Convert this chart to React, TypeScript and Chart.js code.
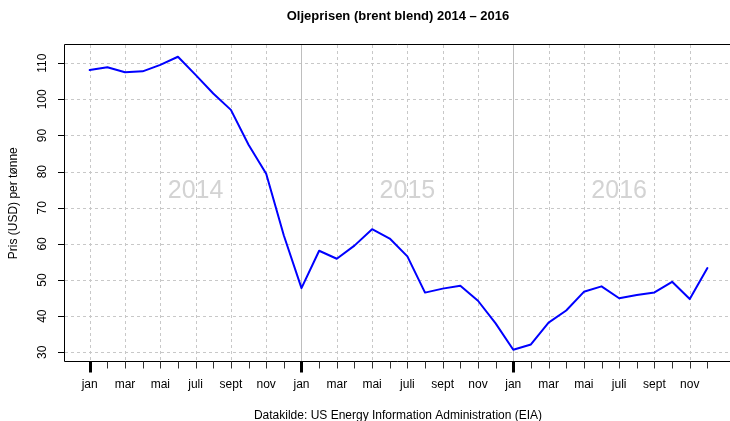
import React, { useEffect, useRef } from "react";
import { Chart, registerables } from "chart.js";

Chart.register(...registerables);

const titleText = "Oljeprisen (brent blend) 2014 – 2016";
const yTitle = "Pris (USD) per tønne";
const xTitle = "Datakilde: US Energy Information Administration (EIA)";

const years = ["2014", "2015", "2016"];
const monthTickLabels = ["jan", "mar", "mai", "juli", "sept", "nov"];
const yTicks = [30, 40, 50, 60, 70, 80, 90, 100, 110];

const prices2014 = [108.12, 108.9, 107.48, 107.76, 109.54, 111.8, 106.77, 101.61, 97.09, 87.43, 79.44, 62.34];
const prices2015 = [47.76, 58.1, 55.89, 59.52, 64.08, 61.48, 56.56, 46.52, 47.62, 48.43, 44.27, 38.01];
const prices2016 = [30.7, 32.18, 38.21, 41.58, 46.74, 48.25, 44.95, 45.84, 46.57, 49.52, 44.73, 53.31];

const yearLabelValue = 74.5;

const FONT = '"Liberation Sans", Arial, Helvetica, sans-serif';

const decor = {
  id: "decor",
  beforeDatasetsDraw(chart: any) {
    const { ctx, chartArea: a, scales } = chart;
    const x = scales.x;
    const y = scales.y;
    ctx.save();
    // year labels
    ctx.fillStyle = "#d3d3d3";
    ctx.font = `25px ${FONT}`;
    ctx.textAlign = "center";
    ctx.textBaseline = "middle";
    years.forEach((yr, k) => {
      ctx.fillText(yr, x.getPixelForValue(k * 12 + 6), y.getPixelForValue(yearLabelValue));
    });
    // dashed grid
    ctx.strokeStyle = "#c8c8c8";
    ctx.lineWidth = 1;
    ctx.setLineDash([3, 3]);
    yTicks.forEach((v) => {
      const py = Math.round(y.getPixelForValue(v)) + 0.5;
      ctx.beginPath();
      ctx.moveTo(a.left, py);
      ctx.lineTo(a.right, py);
      ctx.stroke();
    });
    const nMonths = years.length * 12;
    for (let m = 0; m < nMonths; m += 2) {
      if (m % 12 === 0 && m > 0) continue;
      const px = Math.round(x.getPixelForValue(m)) + 0.5;
      ctx.beginPath();
      ctx.moveTo(px, a.top);
      ctx.lineTo(px, a.bottom);
      ctx.stroke();
    }
    ctx.setLineDash([]);
    ctx.strokeStyle = "#bebebe";
    for (let m = 12; m < nMonths; m += 12) {
      const px = Math.round(x.getPixelForValue(m)) + 0.5;
      ctx.beginPath();
      ctx.moveTo(px, a.top);
      ctx.lineTo(px, a.bottom);
      ctx.stroke();
    }
    ctx.restore();
  },
  afterDraw(chart: any) {
    const { ctx, chartArea: a, scales } = chart;
    const x = scales.x;
    const y = scales.y;
    ctx.save();
    // box
    ctx.strokeStyle = "#000";
    ctx.lineWidth = 1;
    ctx.beginPath();
    ctx.moveTo(a.right + 5, a.top - 0.5);
    ctx.lineTo(a.left - 0.5, a.top - 0.5);
    ctx.lineTo(a.left - 0.5, a.bottom);
    ctx.lineTo(a.right + 5, a.bottom);
    ctx.stroke();
    // y ticks
    ctx.fillStyle = "#000";
    ctx.font = `12px ${FONT}`;
    yTicks.forEach((v) => {
      const py = Math.round(y.getPixelForValue(v)) + 0.5;
      ctx.beginPath();
      ctx.moveTo(a.left - 7, py);
      ctx.lineTo(a.left, py);
      ctx.stroke();
      ctx.save();
      ctx.translate(46, y.getPixelForValue(v));
      ctx.rotate(-Math.PI / 2);
      ctx.textAlign = "center";
      ctx.textBaseline = "alphabetic";
      ctx.fillText(String(v), 0, 0);
      ctx.restore();
    });
    // x ticks
    const nMonths = years.length * 12;
    for (let m = 0; m < nMonths; m++) {
      const px = Math.round(x.getPixelForValue(m)) + 0.5;
      ctx.beginPath();
      if (m % 12 === 0) {
        ctx.lineWidth = 3;
        ctx.strokeStyle = "#000";
        ctx.moveTo(px, a.bottom);
        ctx.lineTo(px, a.bottom + 11);
      } else {
        ctx.lineWidth = 1;
        ctx.strokeStyle = "#333";
        ctx.moveTo(px, a.bottom);
        ctx.lineTo(px, a.bottom + 7);
      }
      ctx.stroke();
    }
    ctx.textAlign = "center";
    ctx.textBaseline = "alphabetic";
    for (let m = 0; m < nMonths; m += 2) {
      const lbl = monthTickLabels[(m % 12) / 2];
      ctx.fillText(lbl, x.getPixelForValue(m), 388);
    }
    // titles
    const cx = 398;
    ctx.fillText(xTitle, cx, 419);
    ctx.font = `bold 13px ${FONT}`;
    ctx.fillText(titleText, cx, 20);
    ctx.font = `12px ${FONT}`;
    ctx.save();
    ctx.translate(17, (a.top + a.bottom) / 2);
    ctx.rotate(-Math.PI / 2);
    ctx.fillText(yTitle, 0, 0);
    ctx.restore();
    ctx.restore();
  },
};

export default function App() {
  const ref = useRef<HTMLCanvasElement | null>(null);
  useEffect(() => {
    document.body.style.margin = "0";
    const prices = [...prices2014, ...prices2015, ...prices2016];
    const points = prices.map((v, i) => ({ x: i, y: v }));
    const chart = new Chart(ref.current as HTMLCanvasElement, {
      type: "line",
      data: {
        datasets: [
          {
            data: points,
            borderColor: "#0000ff",
            borderWidth: 2,
            pointRadius: 0,
            tension: 0,
            fill: false,
            borderJoinStyle: "round",
            borderCapStyle: "round",
          },
        ],
      },
      options: {
        animation: false,
        responsive: false,
        devicePixelRatio: 1,
        events: [],
        layout: { padding: { left: 65, top: 45, right: 0, bottom: 59.5 } },
        plugins: { legend: { display: false }, tooltip: { enabled: false }, title: { display: false } },
        scales: {
          x: { type: "linear", min: -1.4, max: 36.28, display: false },
          y: { type: "linear", min: 27.456, max: 115.044, display: false },
        },
      },
      plugins: [decor],
    } as any);
    return () => chart.destroy();
  }, []);
  return (
    <div style={{ position: "fixed", left: 0, top: 0, width: 730, height: 421, background: "#fff" }}>
      <canvas ref={ref} width={730} height={421} />
    </div>
  );
}
